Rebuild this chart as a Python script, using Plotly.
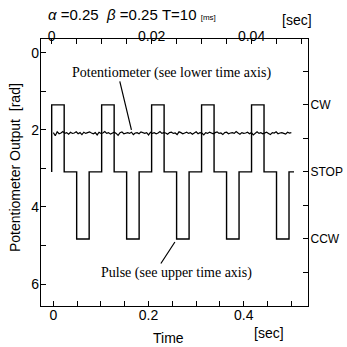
import plotly.graph_objects as go

# ---- data ----
pot_v = [2.07,2.15,2.05,2.10,2.08,2.04,2.09,2.07,2.11,2.06,
         2.09,2.08,2.05,2.10,2.07,2.12,2.06,2.09,2.07,2.05,
         2.08,2.10,2.07,2.13,2.06,2.09,2.08,2.04,2.09,2.07,
         2.11,2.08,2.06,2.09,2.14,2.07,2.05,2.10,2.08,2.07,
         2.09,2.06,2.12,2.08,2.07,2.10,2.05,2.08,2.09,2.07,
         2.13,2.06,2.09,2.07,2.10,2.08,2.04,2.09,2.07,2.08,
         2.11,2.07,2.06,2.09,2.08,2.12,2.05,2.07,2.10,2.08,
         2.06,2.09,2.07,2.11,2.08,2.05,2.10,2.07,2.08,2.13,
         2.07,2.09,2.06,2.08,2.10,2.07,2.05,2.09,2.08,2.12,
         2.07,2.06,2.10,2.08,2.07,2.09,2.04,2.08,2.11,2.07,
         2.09,2.08,2.06,2.10,2.07,2.13,2.08,2.05,2.09,2.07,
         2.10,2.08,2.06,2.09,2.12,2.07,2.08,2.05,2.10,2.08,
         2.07,2.09,2.11,2.06,2.08,2.07]
pot_t = [round(i * 0.004, 3) for i in range(len(pot_v))]

pulse_t = [0.0, 0.0, 0.0025, 0.005, 0.0075, 0.01, 0.0125, 0.015, 0.0175, 0.02,
           0.0225, 0.025, 0.0275, 0.03, 0.0325, 0.035, 0.0375, 0.04, 0.0425,
           0.045, 0.0475, 0.0485]
pulse_state = ["STOP", "CW", "STOP", "CCW", "STOP", "CW", "STOP", "CCW", "STOP", "CW",
               "STOP", "CCW", "STOP", "CW", "STOP", "CCW", "STOP", "CW", "STOP",
               "CCW", "STOP", "STOP"]
state_level = {"CW": 1.35, "STOP": 3.09, "CCW": 4.83}
pulse_y = [state_level[s] for s in pulse_state]

left_ticks = [0, 1, 2, 3, 4, 5, 6]
left_text = ["0", "", "2", "", "4", "", "6"]
right_ticks = [0.48, 1.35, 2.22, 3.09, 3.96, 4.83, 5.70]
right_text = ["", "CW", "", "STOP", "", "CCW", ""]
bottom_ticks = [0, 0.05, 0.1, 0.15, 0.2, 0.25, 0.3, 0.35, 0.4, 0.45, 0.5]
bottom_text = ["0", "", "", "", "0.2", "", "", "", "0.4", "", ""]
top_ticks = [0, 0.005, 0.01, 0.015, 0.02, 0.025, 0.03, 0.035, 0.04, 0.045, 0.05]
top_text = ["0", "", "", "", "0.02", "", "", "", "0.04", "", ""]

yrange = [6.57, -0.36]
SANS = "Liberation Sans, Arial, sans-serif"
SERIF = "Liberation Serif, Times New Roman, serif"

fig = go.Figure()
fig.add_trace(go.Scatter(x=pot_t, y=pot_v, mode="lines", xaxis="x", yaxis="y",
                         line=dict(color="black", width=1.2), showlegend=False))
fig.add_trace(go.Scatter(x=pulse_t, y=pulse_y, mode="lines", xaxis="x2", yaxis="y2",
                         line=dict(color="black", width=1.4, shape="hv"), showlegend=False))

axis_common = dict(showline=True, linecolor="black", linewidth=1.2, ticks="inside",
                   ticklen=5, tickcolor="black", showgrid=False, zeroline=False,
                   automargin=False,
                   tickfont=dict(family=SANS, size=14, color="black"))


def txt(text, x, y, size=14, family=SANS, **kw):
    d = dict(text=text, xref="paper", yref="paper", x=x, y=y, showarrow=False,
             xanchor="center", yanchor="middle",
             font=dict(family=family, size=size, color="black"))
    d.update(kw)
    return d


fig.update_layout(
    width=347, height=347,
    margin=dict(l=41, r=39, t=39, b=41),
    paper_bgcolor="white", plot_bgcolor="white",
    xaxis=dict(range=[-0.026, 0.535], tickvals=bottom_ticks, ticktext=bottom_text,
               side="bottom", anchor="y", ticklabelstandoff=-4, **axis_common),
    xaxis2=dict(range=[-0.00214, 0.0513], tickvals=top_ticks, ticktext=top_text,
                side="top", overlaying="x", anchor="y", ticklabelstandoff=-9, **axis_common),
    yaxis=dict(range=yrange, tickvals=left_ticks, ticktext=left_text,
               side="left", anchor="x", ticklabelstandoff=-2, **axis_common),
    yaxis2=dict(range=yrange, tickvals=right_ticks, ticktext=right_text,
                side="right", overlaying="y", anchor="x", ticklabelstandoff=-1,
                **{**axis_common, "tickfont": dict(family=SANS, size=12, color="black")}),
    annotations=[
        txt("Potentiometer (see lower time axis)", 0.487, 0.873, family=SERIF),
        dict(text="", xref="x", yref="y", x=0.164, y=2.0, ax=-12, ay=-50,
             showarrow=True, arrowhead=0, arrowwidth=1.2, arrowcolor="black"),
        txt("Pulse (see upper time axis)", 0.509, 0.124, family=SERIF),
        dict(text="", xref="x2", yref="y2", x=0.02466, y=4.91, ax=-15, ay=23,
             showarrow=True, arrowhead=0, arrowwidth=1.2, arrowcolor="black"),
        txt("<i>α</i> =0.25  <i>β</i> =0.25 T=10 <span style='font-size:8px'>[ms]</span>",
            0.02, 1.09, size=15, xanchor="left"),
        txt("[sec]", 0.959, 1.071),
        txt("Time", 0.476, -0.12),
        txt("[sec]", 0.854, -0.101),
        txt("Potentiometer Output  [rad]", -0.097, 0.517, textangle=-90),
    ],
)

fig.write_html("out.html")
